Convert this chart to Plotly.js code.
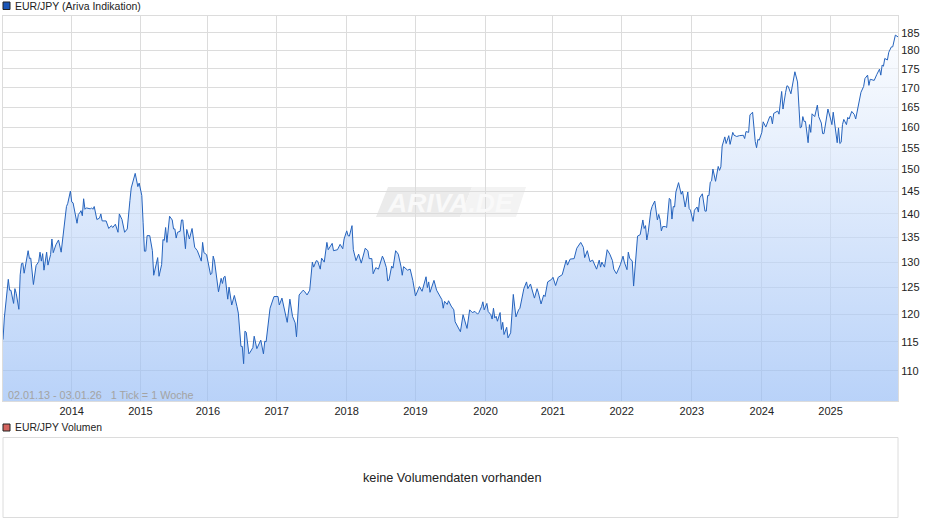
<!DOCTYPE html>
<html>
<head>
<meta charset="utf-8">
<script src="https://cdn.plot.ly/plotly-3.0.1.min.js"></script>
<style>html,body{margin:0;padding:0;background:#fff}#c{width:940px;height:526px}</style>
</head>
<body>
<div id="c"></div>
<script>
const weeks = [0,1,4,5,6,8,9,10,12,13,14,15,16,18,19,20,21,23,25,27,28,29,30,31,33,34,36,37,38,40,42,44,46,48,49,51,52,53,56,57,58,59,60,61,62,63,66,67,68,69,71,73,74,75,78,80,82,83,85,87,88,90,92,94,96,97,100,102,103,105,106,107,108,109,111,113,114,116,117,118,120,121,122,123,124,126,128,129,130,131,132,134,135,136,138,139,141,143,145,147,150,151,152,154,157,158,159,160,163,165,166,167,168,170,171,173,175,177,178,180,181,182,183,184,186,187,189,190,192,195,197,198,199,202,205,208,209,211,215,217,219,221,222,224,
227,228,230,232,234,235,237,238,240,241,243,245,246,249,250,253,255,257,258,260,261,262,264,265,267,269,271,274,276,277,279,280,282,284,287,288,290,291,292,294,295,297,299,301,302,303,306,308,310,312,315,317,318,320,321,322,323,326,328,331,332,333,334,336,337,339,341,342,344,346,348,350,351,353,355,357,359,360,362,363,364,366,367,369,370,371,372,373,374,376,377,378,379,381,382,384,386,387,388,390,391,394,396,397,399,402,404,405,407,409,410,412,415,416,418,420,423,426,427,429,432,434,437,439,440,442,444,446,449,451,452,453,455,457,459,461,462,464,465,467,
469,470,472,473,474,476,477,479,480,482,484,485,486,487,488,490,491,493,495,496,497,498,499,501,502,504,505,506,507,508,509,511,513,514,516,518,519,520,522,523,525,526,527,529,531,532,533,534,535,536,537,539,541,542,543,544,546,547,549,550,552,553,555,557,560,561,562,564,565,567,569,570,571,572,574,575,577,580,581,582,583,586,587,589,590,592,593,594,596,599,601,603,604,605,606,607,609,610,611,612,614,616,617,619,620,621,624,626,627,628,631,632,633,634,635,636,638,639,640,642,644,645,647,649,651,652,654,655,656,659,661,663,664,665,666,667,669,670,672,673,675,677];
const rates = [115.4,119.3,126.6,124.5,124.5,122,124.8,123.9,120.9,127.5,129.7,129.8,127.8,131.5,132.3,130.7,130.8,125.6,129.3,130.1,132,130.2,131.7,128.4,132,129.4,131.5,134.7,131.9,133.5,134.5,132,137,141.6,142.3,145,142.6,142.4,138,139.9,140.2,140.7,139.6,143.3,141,141.3,141.1,141.3,141,141.6,138.8,139.1,140,138.5,138.5,136.9,137.5,137.1,137.8,136.1,140,138.8,136.1,136.8,142.9,145.7,149,146,146.8,144,138.1,132.2,132.2,135.4,135.4,132.3,127.4,130.2,130.9,127.2,129.5,134.6,134.4,137.1,134,139.5,138.7,136.8,136.8,134.9,136.1,136.3,138.7,138.7,132.7,136.7,134.7,136.9,133,132.3,130.2,134,131.9,131.5,127.5,127.8,131.2,130.2,124.2,126.8,125.8,127,127.2,122.8,125.1,121.7,123.5,121.4,120.2,114.2,114.2,111.2,116.9,116.7,112.9,113.2,114,116,113.8,115.3,112.9,115.1,115,121.1,123.3,123.3,121.7,123,118.5,122.8,119.6,118.4,115.9,123.6,
124.5,124.3,123.6,124.5,130,129,130.3,130.2,128.6,130.8,130,134,132.5,133.8,132.3,132.5,133.6,132.7,134.7,136.4,135.4,135.3,137.5,132.5,130.3,131.6,129.8,132.8,132.3,130.7,130.7,127.7,128.9,128.6,131.2,130.6,128.9,126.3,126.5,129.2,128.8,132.3,131.6,129.2,127.4,129.1,128.4,128.6,126.4,123.4,125.2,124.3,125.1,127.1,125,126.1,124.1,126.4,124.5,123,122.7,121.1,122.4,121.8,122.5,121.5,120.8,118.6,117.8,116.8,119.9,118.4,117.4,120.8,120.3,120.5,120,120.3,121.4,122.3,120.8,122,120.5,119.9,119.1,121.1,119.3,119.6,118.7,120.3,117.2,118.5,116.3,117.6,115.7,116.6,123.7,121.5,119.5,120.8,121.1,124.8,126.1,124.8,125.7,123,124.8,124,121.9,123.6,123.3,126.1,126.6,127,125.4,127,127.5,130.4,129.4,130.6,130.7,132.8,134,133,130.9,132.3,130.1,130.4,128.6,130.4,129,130,129,132.5,131.6,130.3,128.6,127.7,128.2,129.5,
131.2,130,128.5,132,130.8,130.2,125.3,131.3,135.3,135.6,138.7,136.9,137.5,134.5,136,140.6,141.6,142.8,138.7,139.9,138.8,136.4,137.3,137.3,137.1,143.4,143.1,138.9,141.6,141.5,144.8,146.9,144.3,145,141.5,144.8,141.2,140.8,138.4,140.8,141.5,140.4,143.5,144.4,140.6,140.6,144,144,147,147.3,150,147.2,150.6,149.7,150.5,155.4,157.6,156,157.9,155.8,158.7,158,157.7,157.9,158,157.2,158.9,158.7,163,163.7,156.5,155,157,156.8,158.7,161.3,160,162.6,162.6,160.8,163.4,164,163.2,169,164.5,168.8,170.5,170.3,168.4,174.2,171.5,159.8,160,162.6,161.4,161.4,156.2,160.6,158.7,163.3,162.6,165.5,162.6,161,158.4,158.4,164.5,162,160.6,163.7,156.2,159.8,156,156.3,160.6,161.9,160.6,162.4,162,163.9,163.1,162,165.3,168.8,170.3,172.4,173.3,170.6,172.2,171.9,173.5,174.9,173.3,176,175.7,177.8,177.4,179.5,181,181,184.3,183.8];
const yearWeeks = [52,104,155,207,260,312,365,416,468,521,574,626];
const yearLabels = ['2014','2015','2016','2017','2018','2019','2020','2021','2022','2023','2024','2025'];
const priceTicks = [110,115,120,125,130,135,140,145,150,155,160,165,170,175,180,185];

const W = 895, H = 385, L = 3, T = 16;
const px = v => (v - L) / W;
const py = v => (T + H - v) / H;
const font = 'Liberation Sans, Arial, sans-serif';
const label = (x, y, text, size, color, anchor) => ({
  xref:'paper', yref:'paper', x:px(x), y:py(y), text, showarrow:false, xanchor:anchor||'left', yanchor:'middle',
  font:{family:font, size, color}
});
const box = (x0,y0,x1,y1,fill,line) => ({type:'rect', xref:'paper', yref:'paper', x0:px(x0), x1:px(x1), y0:py(y0), y1:py(y1),
  fillcolor:fill, line:{color:line, width:1}, layer:'above'});
const poly = (pts, fill) => ({type:'path', xref:'paper', yref:'paper', layer:'below', fillcolor:fill, line:{width:0},
  path:'M'+pts.map(p=>px(p[0])+','+py(p[1])).join(' L')+' Z'});

Plotly.newPlot('c', [{
  type:'scatter', mode:'lines', x:weeks, y:rates,
  line:{color:'#2563bd', width:1},
  fill:'tozeroy',
  fillgradient:{type:'vertical', start:105, stop:189.8,
    colorscale:[[0,'rgba(147,186,245,0.65)'],[1,'rgba(255,255,255,0.65)']]},
  hoverinfo:'skip'
}], {
  width:940, height:526, margin:{l:3,r:42,t:16,b:125,pad:0},
  paper_bgcolor:'#fff', plot_bgcolor:'#fff', showlegend:false, hovermode:false,
  font:{family:font, size:11, color:'#222'},
  xaxis:{type:'linear', range:[0,677], tickmode:'array', tickvals:yearWeeks, ticktext:yearLabels,
    showgrid:true, gridcolor:'#dcdcdc', gridwidth:1, zeroline:false, ticks:'', showline:true, linecolor:'#dcdcdc', mirror:true,
    tickfont:{family:font,size:11,color:'#222'}},
  yaxis:{type:'log', side:'right', range:[Math.log10(105),Math.log10(189.8)], tickmode:'array', tickvals:priceTicks,
    ticktext:priceTicks.map(String), showgrid:true, gridcolor:'#dcdcdc', gridwidth:1, zeroline:false, ticks:'', showline:true,
    linecolor:'#dcdcdc', mirror:true, tickfont:{family:font,size:11,color:'#222'}},
  shapes:[
    box(3,2,10,9.5,'#1a56b8','#222'),
    box(3,424,10,431,'#d4645f','#222'),
    box(3,437.5,898,517.5,'rgba(0,0,0,0)','#dcdcdc'),
    poly([[388,187],[472,187],[460,217],[376,217]],'#ebebeb'),
    poly([[472,187],[526,187],[516,217],[460,217]],'#f3f3f3')
  ],
  annotations:[
    label(13,6,'EUR/JPY (Ariva Indikation)',10.5,'#222'),
    label(13,428,'EUR/JPY Volumen',10.4,'#222'),
    label(6,395,'02.01.13 - 03.01.26 &nbsp; 1 Tick = 1 Woche',10.8,'#a3a3a3'),
    label(451.5,478,'keine Volumendaten vorhanden',12.7,'#222','center'),
    label(450,202.5,'<b><i>ARIVA.DE</i></b>',26.5,'#f9f9f9','center')
  ]
}, {staticPlot:true, displayModeBar:false});
</script>
</body>
</html>
